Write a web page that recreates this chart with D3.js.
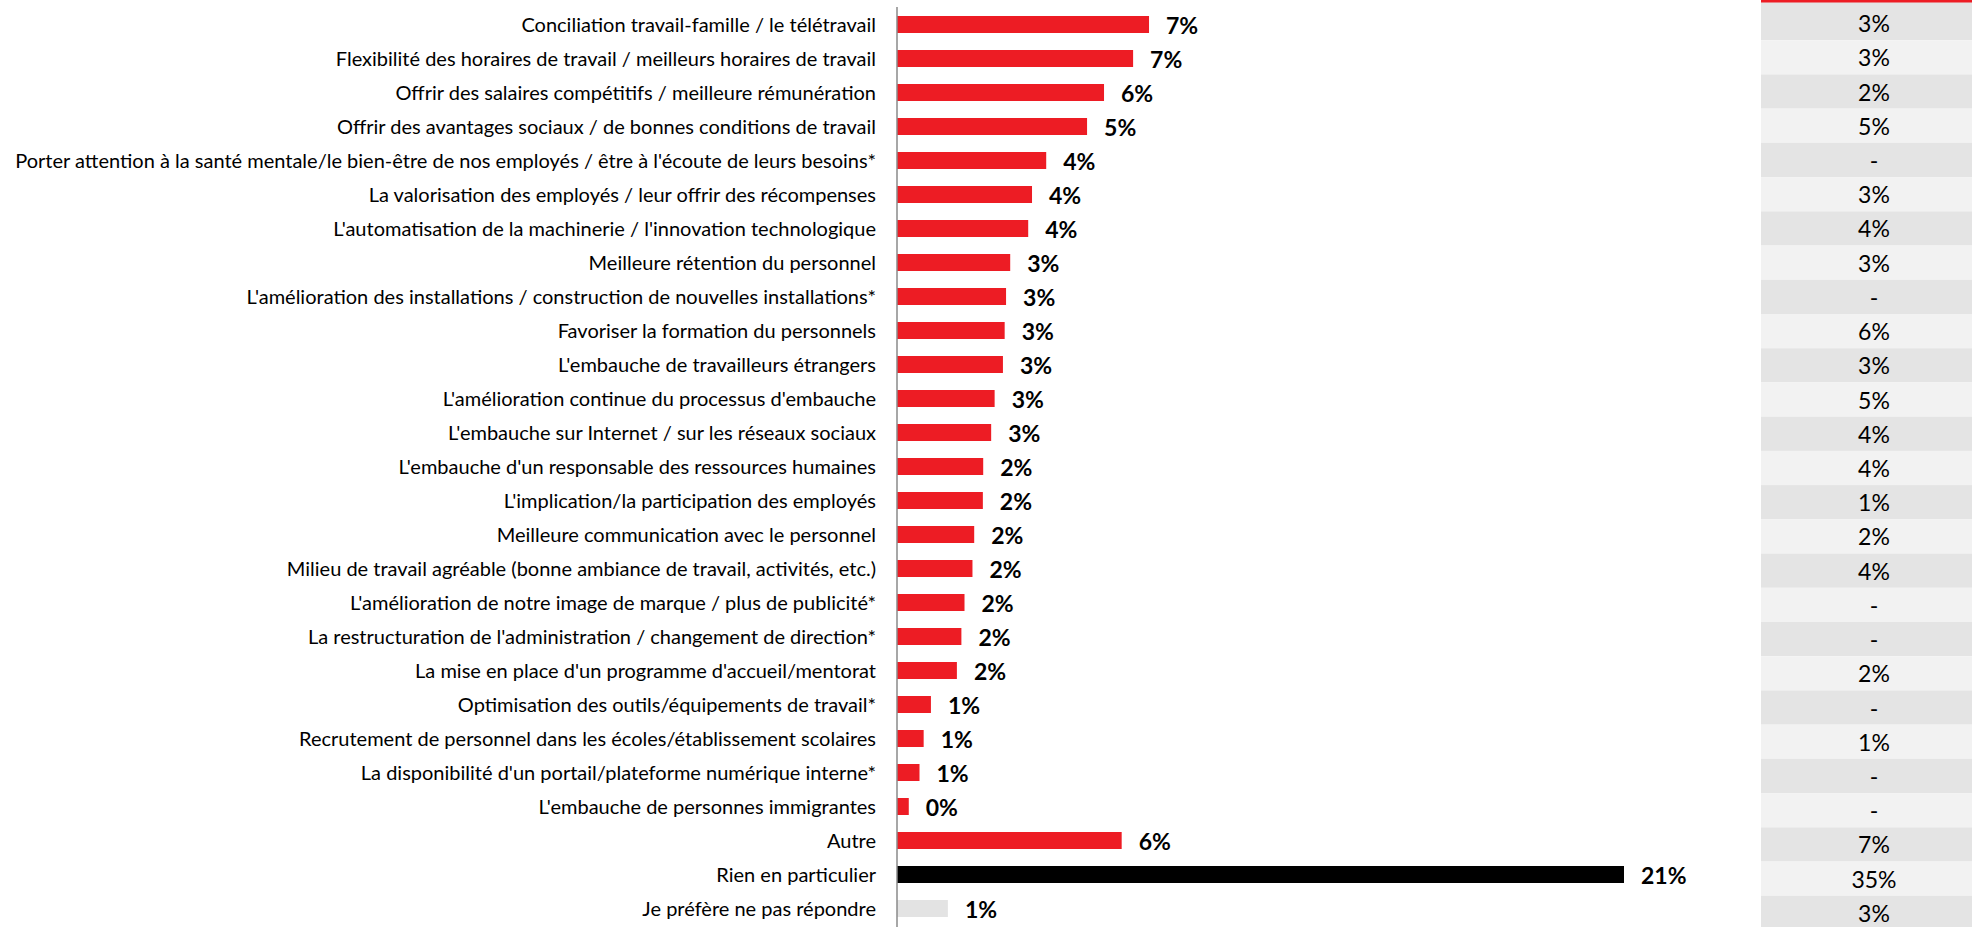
<!DOCTYPE html>
<html lang="fr">
<head>
<meta charset="utf-8">
<title>Pratiques pour attirer et retenir la main-d'œuvre</title>
<script src="https://cdn.jsdelivr.net/npm/d3@7"></script>
<style>
  html, body { margin: 0; padding: 0; background: #ffffff; }
  svg { display: block; }
</style>
</head>
<body>
<svg id="chart" width="1972" height="927"></svg>
<script>
// Response categories, top to bottom
const categories = [
  "Conciliation travail-famille / le télétravail",
  "Flexibilité des horaires de travail / meilleurs horaires de travail",
  "Offrir des salaires compétitifs / meilleure rémunération",
  "Offrir des avantages sociaux / de bonnes conditions de travail",
  "Porter attention à la santé mentale/le bien-être de nos employés / être à l'écoute de leurs besoins*",
  "La valorisation des employés / leur offrir des récompenses",
  "L'automatisation de la machinerie / l'innovation technologique",
  "Meilleure rétention du personnel",
  "L'amélioration des installations / construction de nouvelles installations*",
  "Favoriser la formation du personnels",
  "L'embauche de travailleurs étrangers",
  "L'amélioration continue du processus d'embauche",
  "L'embauche sur Internet / sur les réseaux sociaux",
  "L'embauche d'un responsable des ressources humaines",
  "L'implication/la participation des employés",
  "Meilleure communication avec le personnel",
  "Milieu de travail agréable (bonne ambiance de travail, activités, etc.)",
  "L'amélioration de notre image de marque / plus de publicité*",
  "La restructuration de l'administration / changement de direction*",
  "La mise en place d'un programme d'accueil/mentorat",
  "Optimisation des outils/équipements de travail*",
  "Recrutement de personnel dans les écoles/établissement scolaires",
  "La disponibilité d'un portail/plateforme numérique interne*",
  "L'embauche de personnes immigrantes",
  "Autre",
  "Rien en particulier",
  "Je préfère ne pas répondre"
];

// Current wave (%), drawn as bars
const currentValues = [
  7.28, 6.82, 5.98, 5.49, 4.31, 3.90, 3.79, 3.27, 3.15, 3.11, 3.06, 2.82, 2.72,
  2.49, 2.48, 2.23, 2.18, 1.95, 1.86, 1.73, 0.98, 0.77, 0.65, 0.34, 6.49, 21.0, 1.47
];

// Previous wave, shown in the side column ("-" = not asked)
const previousValues = [
  "3%", "3%", "2%", "5%", "-", "3%", "4%", "3%", "-", "6%", "3%", "5%", "4%",
  "4%", "1%", "2%", "4%", "-", "-", "2%", "-", "1%", "-", "-", "7%", "35%", "3%"
];

// Bar fill per kind of answer
const barKinds = [
  "item", "item", "item", "item", "item", "item", "item", "item", "item",
  "item", "item", "item", "item", "item", "item", "item", "item", "item",
  "item", "item", "item", "item", "item", "item", "item", "nothing", "refusal"
];
const kindColor = { item: "#ed1c24", nothing: "#000000", refusal: "#e3e3e3" };

const rows = categories.map((c, i) => ({
  category: c,
  value: currentValues[i],
  previous: previousValues[i],
  kind: barKinds[i]
}));

const svg = d3.select("#chart");

const axisX = 897;
const x = d3.scaleLinear().domain([0, 21]).range([axisX, 1624]);

const y = d3.scaleBand()
  .domain(categories)
  .range([7.5, 925.5])
  .paddingInner(0.5)
  .paddingOuter(0.25);

const pct = d3.format(".0f");

// Side column: previous wave
const tableLeft = 1761, tableRight = 1972;
const yt = d3.scaleBand().domain(categories).range([6, 930]);

const table = svg.append("g").attr("class", "previous-wave");
table.selectAll("rect.row")
  .data(rows)
  .join("rect")
  .attr("class", "row")
  .attr("x", tableLeft)
  .attr("width", tableRight - tableLeft)
  .attr("y", (d, i) => i === 0 ? 2 : yt(d.category))
  .attr("height", (d, i) => i === 0 ? yt(d.category) + yt.bandwidth() - 2 : yt.bandwidth())
  .attr("fill", (d, i) => i % 2 === 0 ? "#e4e4e4" : "#f2f2f2");

table.append("rect")
  .attr("x", tableLeft)
  .attr("y", 0)
  .attr("width", tableRight - tableLeft)
  .attr("height", 2.5)
  .attr("fill", "#ed1c24");

table.selectAll("text")
  .data(rows)
  .join("text")
  .attr("x", 1874)
  .attr("y", d => yt(d.category) + yt.bandwidth() / 2)
  .attr("text-anchor", "middle")
  .attr("dominant-baseline", "central")
  .attr("font-family", "Lato, 'Noto Sans', sans-serif")
  .attr("font-size", 23)
  .attr("fill", "#000")
  .text(d => d.previous);

// Bars
svg.append("g").attr("class", "bars")
  .selectAll("rect")
  .data(rows)
  .join("rect")
  .attr("x", x(0))
  .attr("y", d => y(d.category))
  .attr("width", d => x(d.value) - x(0))
  .attr("height", y.bandwidth())
  .attr("fill", d => kindColor[d.kind]);

// Value labels
svg.append("g").attr("class", "values")
  .selectAll("text")
  .data(rows)
  .join("text")
  .attr("x", d => x(d.value) + 17)
  .attr("y", d => y(d.category) + y.bandwidth() / 2)
  .attr("dominant-baseline", "central")
  .attr("font-family", "Lato, 'Noto Sans', sans-serif")
  .attr("font-weight", 700)
  .attr("font-size", 23)
  .attr("fill", "#000")
  .text(d => pct(d.value) + "%");

// Category axis on the left
const yAxis = d3.axisLeft(y).tickSize(0).tickPadding(21);
const gAxis = svg.append("g")
  .attr("class", "y-axis")
  .attr("transform", `translate(${axisX},0)`)
  .call(yAxis);
gAxis.select(".domain").remove();
gAxis.selectAll("text")
  .attr("font-family", "Lato, 'Noto Sans', sans-serif")
  .attr("font-size", 20)
  .attr("fill", "#000")
  .attr("dy", "0.36em");

svg.append("line")
  .attr("x1", axisX).attr("x2", axisX)
  .attr("y1", 7).attr("y2", 927)
  .attr("stroke", "#8a8a8a")
  .attr("stroke-width", 1.5);
</script>
</body>
</html>
